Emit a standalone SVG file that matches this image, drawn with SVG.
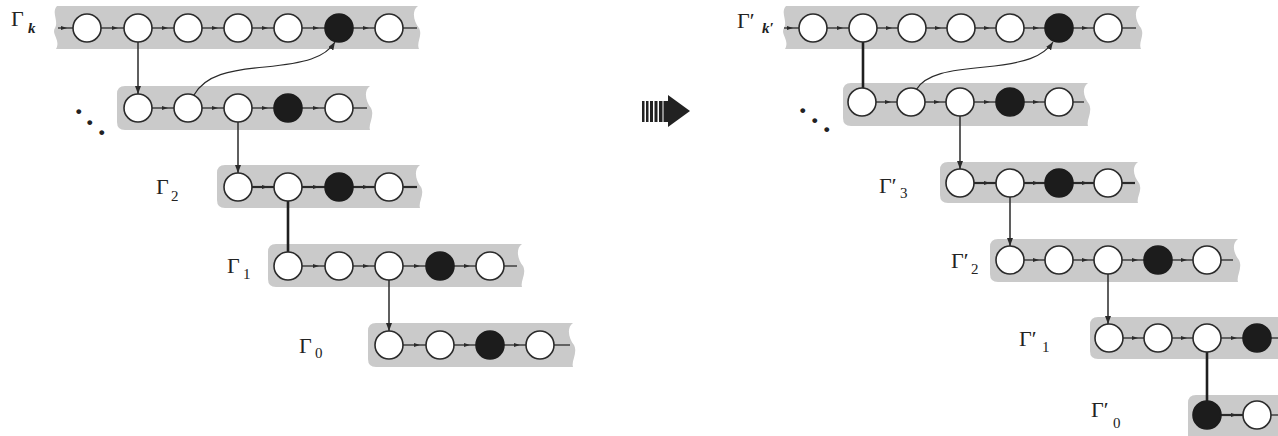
<svg xmlns="http://www.w3.org/2000/svg" width="1278" height="436" viewBox="0 0 1278 436">
<style>
.band{fill:#cacaca;stroke:none}
.c{fill:#fff;stroke:#2a2a2a;stroke-width:1.6}
.b{fill:#1c1c1c;stroke:#1c1c1c;stroke-width:1.6}
.e{fill:none;stroke:#2a2a2a;stroke-width:1.3;marker-mid:url(#sm)}
.et{fill:none;stroke:#2a2a2a;stroke-width:2.2;marker-mid:url(#sm)}
.t{fill:none;stroke:#2a2a2a;stroke-width:1.3}
.tt{fill:none;stroke:#2a2a2a;stroke-width:2.2}
.v{fill:none;stroke:#2a2a2a;stroke-width:1.5;marker-end:url(#va)}
.vt{fill:none;stroke:#1f1f1f;stroke-width:2.6}
.cv{fill:none;stroke:#2a2a2a;stroke-width:1.2;marker-end:url(#va)}
.g{font-family:"Liberation Serif",serif;font-size:22px;fill:#222}
.s{font-family:"Liberation Serif",serif;font-size:15px;fill:#222}
.dots{font-family:"Liberation Serif",serif;font-size:30px;font-weight:bold;fill:#222}
</style>
<defs>
<marker id="sm" viewBox="0 0 6 4" refX="6" refY="2" markerWidth="6" markerHeight="4" markerUnits="userSpaceOnUse" orient="auto"><path d="M0,0 L6,2 L0,4 Z" fill="#2a2a2a"/></marker>
<marker id="va" viewBox="0 0 8 6" refX="8" refY="3" markerWidth="8" markerHeight="6" markerUnits="userSpaceOnUse" orient="auto"><path d="M0,0 L8,3 L0,6 Z" fill="#2a2a2a"/></marker>
</defs>

<g id="bands">
<path class="band" d="M57,6 H418 C411,11 414,22 419,28 C423,36 416,42 419,49 H56 C61,40 51,34 55,28 C59,20 51,13 57,6 Z"/>
<path class="band" d="M125,86 H370 C363,91 366,102 371,108 C375,116 368,124 370,130 H125 Q117,130 117,122 V94 Q117,86 125,86 Z"/>
<path class="band" d="M225,165 H420 C413,170 416,181 421,187 C425,195 418,202 420,208 H225 Q217,208 217,200 V173 Q217,165 225,165 Z"/>
<path class="band" d="M276,244 H522 C515,249 518,260 523,266 C527,274 520,281 522,287 H276 Q268,287 268,279 V252 Q268,244 276,244 Z"/>
<path class="band" d="M376,323 H573 C566,328 569,339 574,345 C578,353 571,361 573,367 H376 Q368,367 368,359 V331 Q368,323 376,323 Z"/>
<path class="band" d="M786,6 H1140 C1133,11 1136,22 1141,28 C1145,36 1138,42 1141,49 H785 C790,40 780,34 784,28 C788,20 780,13 786,6 Z"/>
<path class="band" d="M851,83 H1088 C1081,88 1084,98 1089,104 C1093,112 1086,120 1088,126 H851 Q843,126 843,118 V91 Q843,83 851,83 Z"/>
<path class="band" d="M948,162 H1138 C1131,167 1134,177 1139,183 C1143,191 1136,197 1138,203 H948 Q940,203 940,195 V170 Q940,162 948,162 Z"/>
<path class="band" d="M998,239 H1238 C1231,244 1234,254 1239,260 C1243,268 1236,276 1238,282 H998 Q990,282 990,274 V247 Q990,239 998,239 Z"/>
<path class="band" d="M1098,317 H1290 V359 H1098 Q1090,359 1090,351 V325 Q1090,317 1098,317 Z"/>
<path class="band" d="M1196,395 H1290 V445 H1188 V403 Q1188,395 1196,395 Z"/>
</g>

<g id="connectors">
<path class="e" d="M58,28 L67,28 L73,28"/>
<path class="e" d="M101,28 L118,28 L124,28"/>
<path class="e" d="M152,28 L168,28 L174,28"/>
<path class="e" d="M202,28 L218,28 L224,28"/>
<path class="e" d="M252,28 L268,28 L274,28"/>
<path class="e" d="M302,28 L319,28 L325,28"/>
<path class="e" d="M353,28 L369,28 L375,28"/>
<path class="t" d="M403,28 H417"/>
<path class="e" d="M152,108 L168,108 L174,108"/>
<path class="e" d="M202,108 L218,108 L224,108"/>
<path class="e" d="M252,108 L268,108 L274,108"/>
<path class="e" d="M302,108 L319,108 L325,108"/>
<path class="t" d="M353,108 H367"/>
<path class="et" d="M252,187 L268,187 L274,187"/>
<path class="et" d="M302,187 L319,187 L325,187"/>
<path class="et" d="M353,187 L369,187 L375,187"/>
<path class="tt" d="M403,187 H417"/>
<path class="e" d="M302,266 L319,266 L325,266"/>
<path class="e" d="M353,266 L369,266 L375,266"/>
<path class="e" d="M403,266 L420,266 L426,266"/>
<path class="e" d="M454,266 L470,266 L476,266"/>
<path class="t" d="M504,266 H517"/>
<path class="e" d="M403,345 L420,345 L426,345"/>
<path class="e" d="M454,345 L470,345 L476,345"/>
<path class="e" d="M504,345 L520,345 L526,345"/>
<path class="t" d="M554,345 H570"/>
<path class="v" d="M138,42 V94"/>
<path class="v" d="M238,122 V173"/>
<path class="vt" d="M288,201 V252"/>
<path class="v" d="M389,280 V331"/>
<path class="cv" d="M194,95 C205,75 230,70 265,67 C305,63 325,58 335,42"/>

<path class="e" d="M784,28 L793,28 L799,28"/>
<path class="e" d="M827,28 L843,28 L849,28"/>
<path class="e" d="M877,28 L892,28 L898,28"/>
<path class="e" d="M926,28 L941,28 L947,28"/>
<path class="e" d="M975,28 L990,28 L996,28"/>
<path class="e" d="M1024,28 L1039,28 L1045,28"/>
<path class="e" d="M1073,28 L1088,28 L1094,28"/>
<path class="t" d="M1122,28 H1136"/>
<path class="e" d="M876,102 L891,102 L897,102"/>
<path class="e" d="M925,102 L940,102 L946,102"/>
<path class="e" d="M974,102 L990,102 L996,102"/>
<path class="e" d="M1024,102 L1039,102 L1045,102"/>
<path class="t" d="M1073,102 H1084"/>
<path class="et" d="M974,183 L990,183 L996,183"/>
<path class="et" d="M1024,183 L1039,183 L1045,183"/>
<path class="et" d="M1073,183 L1088,183 L1094,183"/>
<path class="tt" d="M1122,183 H1135"/>
<path class="e" d="M1024,260 L1039,260 L1045,260"/>
<path class="e" d="M1073,260 L1088,260 L1094,260"/>
<path class="e" d="M1122,260 L1138,260 L1144,260"/>
<path class="e" d="M1172,260 L1187,260 L1193,260"/>
<path class="t" d="M1221,260 H1233"/>
<path class="e" d="M1123,338 L1138,338 L1144,338"/>
<path class="e" d="M1172,338 L1187,338 L1193,338"/>
<path class="e" d="M1221,338 L1237,338 L1243,338"/>
<path class="t" d="M1271,338 H1290"/>
<path class="et" d="M1221,415 L1237,415 L1243,415"/>
<path class="t" d="M1271,415 H1290"/>
<path class="vt" d="M863,42 V88"/>
<path class="v" d="M960,116 V169"/>
<path class="v" d="M1010,197 V246"/>
<path class="v" d="M1108,274 V324"/>
<path class="vt" d="M1207,352 V401"/>
<path class="cv" d="M916,90 C925,74 950,70 985,67 C1025,63 1043,57 1053,42"/>
</g>

<g id="L1">
<circle class="c" cx="87" cy="28" r="14"/><circle class="c" cx="138" cy="28" r="14"/><circle class="c" cx="188" cy="28" r="14"/><circle class="c" cx="238" cy="28" r="14"/><circle class="c" cx="288" cy="28" r="14"/><circle class="b" cx="339" cy="28" r="14"/><circle class="c" cx="389" cy="28" r="14"/>
<text class="g" x="11" y="26">Γ<tspan class="s" x="28" y="33" font-style="italic" font-weight="bold">k</tspan></text>
</g>
<g id="L2">
<circle class="c" cx="138" cy="108" r="14"/><circle class="c" cx="188" cy="108" r="14"/><circle class="c" cx="238" cy="108" r="14"/><circle class="b" cx="288" cy="108" r="14"/><circle class="c" cx="339" cy="108" r="14"/>
<text class="dots" x="75 86 98" y="114 125 135">...</text>
</g>
<g id="L3">
<circle class="c" cx="238" cy="187" r="14"/><circle class="c" cx="288" cy="187" r="14"/><circle class="b" cx="339" cy="187" r="14"/><circle class="c" cx="389" cy="187" r="14"/>
<text class="g" x="156" y="194">Γ<tspan class="s" x="171" y="201">2</tspan></text>
</g>
<g id="L4">
<circle class="c" cx="288" cy="266" r="14"/><circle class="c" cx="339" cy="266" r="14"/><circle class="c" cx="389" cy="266" r="14"/><circle class="b" cx="440" cy="266" r="14"/><circle class="c" cx="490" cy="266" r="14"/>
<text class="g" x="227" y="273">Γ<tspan class="s" x="243" y="279">1</tspan></text>
</g>
<g id="L5">
<circle class="c" cx="389" cy="345" r="14"/><circle class="c" cx="440" cy="345" r="14"/><circle class="b" cx="490" cy="345" r="14"/><circle class="c" cx="540" cy="345" r="14"/>
<text class="g" x="299" y="353">Γ<tspan class="s" x="315" y="358">0</tspan></text>
</g>

<g id="arrow" fill="#222">
<rect x="642" y="101" width="2.5" height="21"/>
<rect x="646" y="101" width="2.5" height="21"/>
<rect x="650" y="101" width="3" height="21"/>
<rect x="654.5" y="101" width="3" height="21"/>
<rect x="659" y="101" width="3.5" height="21"/>
<path d="M663.5,101 H668 V95 L690,111 L668,127 V122 H663.5 Z"/>
</g>

<g id="R1">
<circle class="c" cx="813" cy="28" r="14"/><circle class="c" cx="863" cy="28" r="14"/><circle class="c" cx="912" cy="28" r="14"/><circle class="c" cx="961" cy="28" r="14"/><circle class="c" cx="1010" cy="28" r="14"/><circle class="b" cx="1059" cy="28" r="14"/><circle class="c" cx="1108" cy="28" r="14"/>
<text class="g" x="737" y="28">Γ′<tspan class="s" x="762" y="33" font-style="italic" font-weight="bold">k′</tspan></text>
</g>
<g id="R2">
<circle class="c" cx="862" cy="102" r="14"/><circle class="c" cx="911" cy="102" r="14"/><circle class="c" cx="960" cy="102" r="14"/><circle class="b" cx="1010" cy="102" r="14"/><circle class="c" cx="1059" cy="102" r="14"/>
<text class="dots" x="799 811 823" y="113 123 132">...</text>
</g>
<g id="R3">
<circle class="c" cx="960" cy="183" r="14"/><circle class="c" cx="1010" cy="183" r="14"/><circle class="b" cx="1059" cy="183" r="14"/><circle class="c" cx="1108" cy="183" r="14"/>
<text class="g" x="879" y="193">Γ′<tspan class="s" x="900" y="198">3</tspan></text>
</g>
<g id="R4">
<circle class="c" cx="1010" cy="260" r="14"/><circle class="c" cx="1059" cy="260" r="14"/><circle class="c" cx="1108" cy="260" r="14"/><circle class="b" cx="1158" cy="260" r="14"/><circle class="c" cx="1207" cy="260" r="14"/>
<text class="g" x="951" y="268">Γ′<tspan class="s" x="971" y="274">2</tspan></text>
</g>
<g id="R5">
<circle class="c" cx="1109" cy="338" r="14"/><circle class="c" cx="1158" cy="338" r="14"/><circle class="c" cx="1207" cy="338" r="14"/><circle class="b" cx="1257" cy="338" r="14"/>
<text class="g" x="1019" y="346">Γ′<tspan class="s" x="1042" y="352">1</tspan></text>
</g>
<g id="R6">
<circle class="b" cx="1207" cy="415" r="14"/><circle class="c" cx="1257" cy="415" r="14"/>
<text class="g" x="1091" y="417">Γ′<tspan class="s" x="1113" y="428">0</tspan></text>
</g>
</svg>
